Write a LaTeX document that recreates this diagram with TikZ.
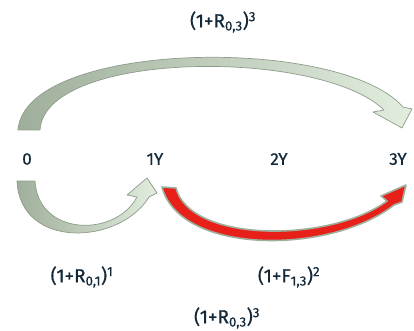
\documentclass[tikz,border=0pt]{standalone}
\usepackage{fontspec}
\setmainfont{Fira Sans}[FakeBold=0.6]
\definecolor{txt}{HTML}{13293A}
\definecolor{gdark}{HTML}{A0AF9C}
\definecolor{glight}{HTML}{E2EDDD}
\definecolor{gline}{HTML}{8E9C8B}
\definecolor{redfill}{HTML}{E8201A}
\tikzset{
  tick/.style={text=txt, font=\fontsize{17}{17}\selectfont, anchor=center},
  lab/.style={text=txt, font=\fontsize{19}{19}\selectfont, anchor=center},
  grayarrow/.style={draw=gline, line width=0.7pt, left color=gdark, right color=glight, line join=round},
  redarrow/.style={draw=gdark, line width=1.6pt, fill=redfill, line join=round},
}
\begin{document}
\begin{tikzpicture}[x=1pt,y=-1pt]
\useasboundingbox (0,0) rectangle (414,331);
% top arc arrow
\path[grayarrow] (18,130) .. controls (25,40) and (340,35) .. (403,107)
  -- (412,109) -- (402,128) -- (373,112) -- (384,110)
  .. controls (320,48) and (45,50) .. (40,130) -- cycle;
% bottom-left arrow
\path[grayarrow] (17,181) .. controls (20,250) and (120,245) .. (149,197)
  -- (157,193) -- (147,178) -- (127,195) -- (137,197)
  .. controls (115,238) and (38,236) .. (35,181) -- cycle;
% red arrow
\path[redarrow] (162,187) .. controls (180,255) and (330,255) .. (394,205)
  -- (402,202) -- (406,185) -- (381,196) -- (387,201)
  .. controls (330,243) and (190,243) .. (176,188) -- cycle;
% tick labels
\node[tick] (t0) at (27,159) {0};
\node[tick] (t1) at (155,159) {1Y};
\node[tick] (t2) at (279,159) {2Y};
\node[tick] (t3) at (398,159) {3Y};
% rate labels
\node[lab] (top) at (223,22) {(1+R\textsubscript{0,3})\textsuperscript{3}};
\node[lab] (r01) at (82,277) {(1+R\textsubscript{0,1})\textsuperscript{1}};
\node[lab] (f13) at (289,277) {(1+F\textsubscript{1,3})\textsuperscript{2}};
\node[lab] (bot) at (227,318) {(1+R\textsubscript{0,3})\textsuperscript{3}};
\end{tikzpicture}
\end{document}
